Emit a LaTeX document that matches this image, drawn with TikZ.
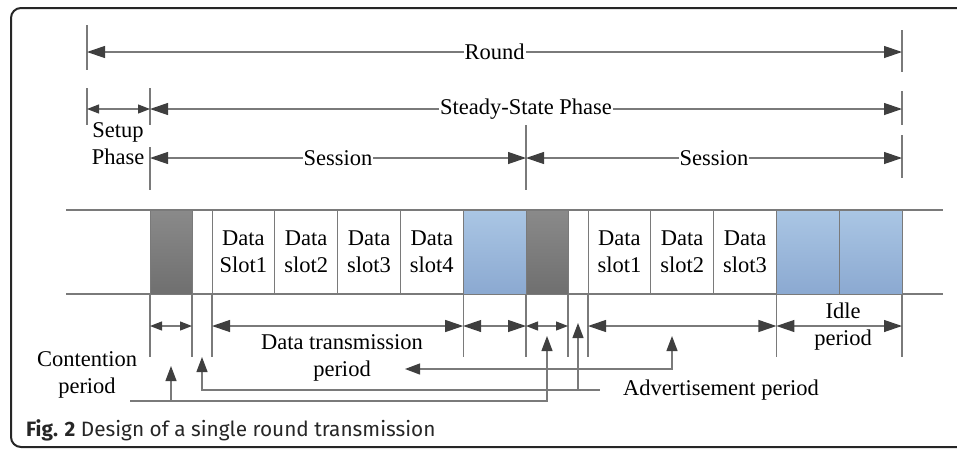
\documentclass[tikz,border=0pt]{standalone}
\usepackage{fontspec}
\setmainfont{Liberation Serif}
\newfontfamily\capfont{Fira Sans}
\usepackage{tikz}
\usetikzlibrary{arrows.meta,positioning}
\definecolor{linegray}{HTML}{7A7A7A}
\definecolor{tipgray}{HTML}{3F3F3F}
\definecolor{idletop}{HTML}{AAC6E4}
\definecolor{idlebot}{HTML}{8BA9D1}
\definecolor{ctrltop}{HTML}{8A8A8A}
\definecolor{ctrlbot}{HTML}{6F6F6F}

\begin{document}
\begin{tikzpicture}[x=1pt, y=-1pt, font=\fontsize{22.5}{27}\selectfont,
    cell/.style={draw=linegray, line width=1pt, minimum height=84pt, minimum width=62.8pt, inner sep=0pt, outer sep=0pt, align=center},
    ctrl/.style={cell, minimum width=42pt, top color=ctrltop, bottom color=ctrlbot},
    adv/.style={cell, minimum width=20pt},
    idle/.style={cell, top color=idletop, bottom color=idlebot},
    tick/.style={draw=linegray, line width=1.2pt},
    dim/.style={tick, {Triangle[length=18pt,width=12pt,color=tipgray]}-{Triangle[length=18pt,width=12pt,color=tipgray]}},
    sdim/.style={tick, {Triangle[length=12pt,width=9pt,color=tipgray]}-{Triangle[length=12pt,width=9pt,color=tipgray]}},
    lead/.style={tick, {Triangle[length=15pt,width=11pt,color=tipgray]}-{Triangle[length=15pt,width=11pt,color=tipgray]}},
    lbl/.style={fill=white, inner sep=1pt},
    txt/.style={align=center, inner sep=1pt}]
    \useasboundingbox (0,0) rectangle (957,448);
    \draw[line width=2pt, black!85, rounded corners=10pt] (980,8) -- (11,8) -- (11,447) -- (980,447);

    \draw[tick] (66,210) -- (943,210);
    \draw[tick] (66,294) -- (943,294);
    \node[ctrl] (c1) at (171,252) {};
    \node[adv] (a1) [right=0pt of c1] {};
    \node[cell] (d1) [right=0pt of a1] {Data\\Slot1};
    \node[cell] (d2) [right=0pt of d1] {Data\\slot2};
    \node[cell] (d3) [right=0pt of d2] {Data\\slot3};
    \node[cell] (d4) [right=0pt of d3] {Data\\slot4};
    \node[idle] (i1) [right=0pt of d4] {};
    \node[ctrl] (c2) [right=0pt of i1] {};
    \node[adv] (a2) [right=0pt of c2] {};
    \node[cell] (f1) [right=0pt of a2] {Data\\slot1};
    \node[cell] (f2) [right=0pt of f1] {Data\\slot2};
    \node[cell] (f3) [right=0pt of f2] {Data\\slot3};
    \node[idle] (i2) [right=0pt of f3] {};
    \node[idle] (i3) [right=0pt of i2] {};

    \coordinate (r0) at (87,52);
    \coordinate (r1) at (i3.east |- r0);
    \coordinate (s0) at (87,109);
    \coordinate (s1) at (c1.west |- s0);
    \coordinate (s2) at (i3.east |- s0);
    \coordinate (e0) at (c1.west |- 0,158);
    \coordinate (e1) at (i1.east |- e0);
    \coordinate (e2) at (i3.east |- e0);
    \draw[tick] (87,25) -- (87,70);
    \draw[tick] (r1) ++(0,-22) -- ++(0,42);
    \draw[tick] (87,88) -- (87,125);
    \draw[tick] (s1) ++(0,-21) -- ++(0,37);
    \draw[tick] (s2) ++(0,-18) -- ++(0,34);
    \draw[tick] (e0) ++(0,-11) -- ++(0,43);
    \draw[tick] (e1) ++(0,-33) -- ++(0,65);
    \draw[tick] (e2) ++(0,-23) -- ++(0,43);
    \draw[dim] (r0) -- node[lbl] {Round} (r1);
    \draw[sdim] (s0) -- (s1);
    \draw[dim] (s1) -- node[lbl] {Steady-State Phase} (s2);
    \draw[dim] (e0) -- node[lbl] {Session} (e1);
    \draw[dim] (e1) -- node[lbl] {Session} (e2);
    \node[txt] (sp) at (118,144) {Setup\\Phase};

    \foreach \n in {c1.south west, c1.south east, d1.south west, d4.south east, c2.south west, c2.south east, f1.south west, f3.south east, i3.south east}
        \draw[tick] (\n) -- ++(0,63);
    \draw[sdim] (c1.west |- 0,326) -- (c1.east |- 0,326);
    \draw[dim] (d1.west |- 0,326) -- (d4.east |- 0,326);
    \draw[dim] (i1.west |- 0,326) -- (i1.east |- 0,326);
    \draw[sdim] (c2.west |- 0,326) -- (c2.east |- 0,326);
    \draw[dim] (f1.west |- 0,326) -- (f3.east |- 0,326);
    \draw[dim] (i2.west |- 0,326) -- (i3.east |- 0,326);

    \node[txt] (cp) at (87,375) {Contention\\period};
    \node[txt] (dp) at (342,358) {Data transmission\\period};
    \node[txt] (ip) at (843,327) {Idle\\period};
    \node[txt] (ap) at (721,390) {Advertisement period};
    \coordinate (dt) at (405,369);
    \draw[lead] (672,336) |- (dt);
    \draw[tick] (130,401) -- (c1 |- 0,401);
    \draw[lead] (c1 |- 0,366) |- (c2 |- 0,401) -- (c2 |- 0,336);
    \draw[tick] ([xshift=-22pt]ap.west) -- (a2 |- 0,390);
    \draw[lead] (a1 |- 0,357) |- (a2 |- 0,390) -- (a2 |- 0,323);

    \node[anchor=base west, inner sep=0pt, font=\capfont\fontsize{20.8}{25}\selectfont, black!85] (cap) at (26,436) {\textbf{Fig. 2} Design of a single round transmission};
\end{tikzpicture}
\end{document}
